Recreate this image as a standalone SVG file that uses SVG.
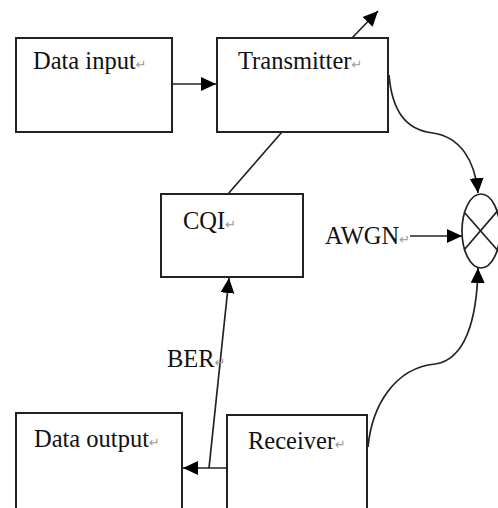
<svg xmlns="http://www.w3.org/2000/svg" width="498" height="508" viewBox="0 0 498 508">
<style>
.box{fill:#fff;stroke:#222;stroke-width:2}
.lbl{font-family:"Liberation Serif","Times New Roman",serif;font-size:24.5px;fill:#111}
.ret{font-family:"DejaVu Sans",sans-serif;font-size:13px;fill:#999}
.c{fill:none;stroke:#222;stroke-width:1.7}
</style>
<defs>
<marker id="ah" markerUnits="userSpaceOnUse" markerWidth="16" markerHeight="16" viewBox="-15 -8 16 16" refX="0" refY="0" orient="auto">
<path d="M-15,-7 L0,0 L-15,7 z" fill="#000"/>
</marker>
</defs>
<rect width="498" height="508" fill="#fff"/>
<g id="connectors">
<line class="c" x1="172" y1="84" x2="216" y2="84" marker-end="url(#ah)"/>
<line class="c" x1="352" y1="38" x2="378" y2="11" marker-end="url(#ah)"/>
<line class="c" x1="282" y1="132" x2="228" y2="194"/>
<path class="c" d="M389,75 C392,110 405,130 433,133 C460,137 475,160 478,193" marker-end="url(#ah)"/>
<line class="c" x1="410" y1="236" x2="462" y2="236" marker-end="url(#ah)"/>
<path class="c" d="M368,447 C372,405 395,368 435,364 C465,360 477,320 478,268" marker-end="url(#ah)"/>
<line class="c" x1="227" y1="468" x2="183" y2="468" marker-end="url(#ah)"/>
<line class="c" x1="209" y1="468" x2="229" y2="278" marker-end="url(#ah)"/>
</g>
<g id="data-input">
<rect class="box" x="16" y="38" width="156" height="94"/>
<text class="lbl" x="33" y="69">Data input<tspan class="ret">↵</tspan></text>
</g>
<g id="transmitter">
<rect class="box" x="217" y="38" width="171" height="94"/>
<text class="lbl" x="238" y="69">Transmitter<tspan class="ret">↵</tspan></text>
</g>
<g id="cqi">
<rect class="box" x="161" y="194" width="142" height="83"/>
<text class="lbl" x="183" y="229">CQI<tspan class="ret">↵</tspan></text>
</g>
<g id="awgn">
<text class="lbl" x="325" y="244">AWGN<tspan class="ret">↵</tspan></text>
</g>
<g id="mixer">
<ellipse cx="481" cy="231" rx="19" ry="37" fill="#fff" stroke="#222" stroke-width="1.7"/>
<line class="c" x1="464" y1="212" x2="500" y2="253"/>
<line class="c" x1="464" y1="250" x2="500" y2="208"/>
</g>
<g id="ber">
<text class="lbl" x="167" y="367">BER<tspan class="ret">↵</tspan></text>
</g>
<g id="data-output">
<rect class="box" x="16" y="413" width="166" height="110"/>
<text class="lbl" x="34" y="447">Data output<tspan class="ret">↵</tspan></text>
</g>
<g id="receiver">
<rect class="box" x="227" y="415" width="140" height="110"/>
<text class="lbl" x="248" y="449">Receiver<tspan class="ret">↵</tspan></text>
</g>
</svg>
